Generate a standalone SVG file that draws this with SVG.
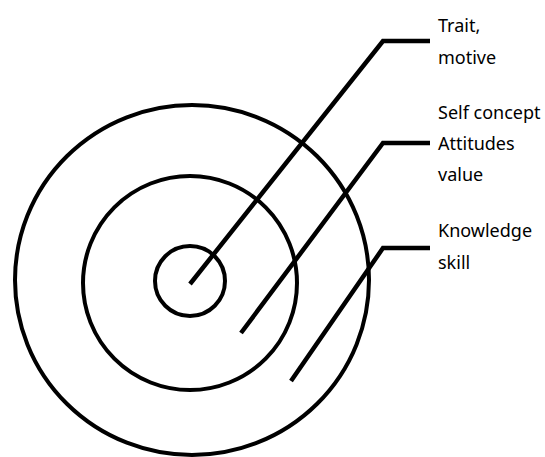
<svg xmlns="http://www.w3.org/2000/svg" width="545" height="457" viewBox="0 0 545 457">
<style>
.ring{fill:none;stroke:#000;stroke-width:4}
.lead{fill:none;stroke:#000;stroke-width:4.5;stroke-linejoin:miter}
.lbl{font-family:"Noto Sans","Open Sans",sans-serif;font-size:18px;fill:#000}
</style>
<rect width="545" height="457" fill="#fff"/>
<g id="outer-ring"><ellipse class="ring" cx="192" cy="280" rx="177" ry="175"/></g>
<g id="middle-ring"><circle class="ring" cx="190" cy="283" r="107"/></g>
<g id="inner-ring"><circle class="ring" cx="190" cy="281" r="35"/></g>
<g id="connectors">
<polyline class="lead" points="190,284 383,41 430,41"/>
<polyline class="lead" points="241,333 383,143 430,143"/>
<polyline class="lead" points="291,381 383,248 430,248"/>
</g>
<g id="label-trait"><text class="lbl" x="438" y="32">Trait,</text><text class="lbl" x="438" y="64">motive</text></g>
<g id="label-self"><text class="lbl" x="438" y="119">Self concept</text><text class="lbl" x="438" y="150">Attitudes</text><text class="lbl" x="438" y="181">value</text></g>
<g id="label-knowledge"><text class="lbl" x="438" y="237">Knowledge</text><text class="lbl" x="438" y="269">skill</text></g>
</svg>
